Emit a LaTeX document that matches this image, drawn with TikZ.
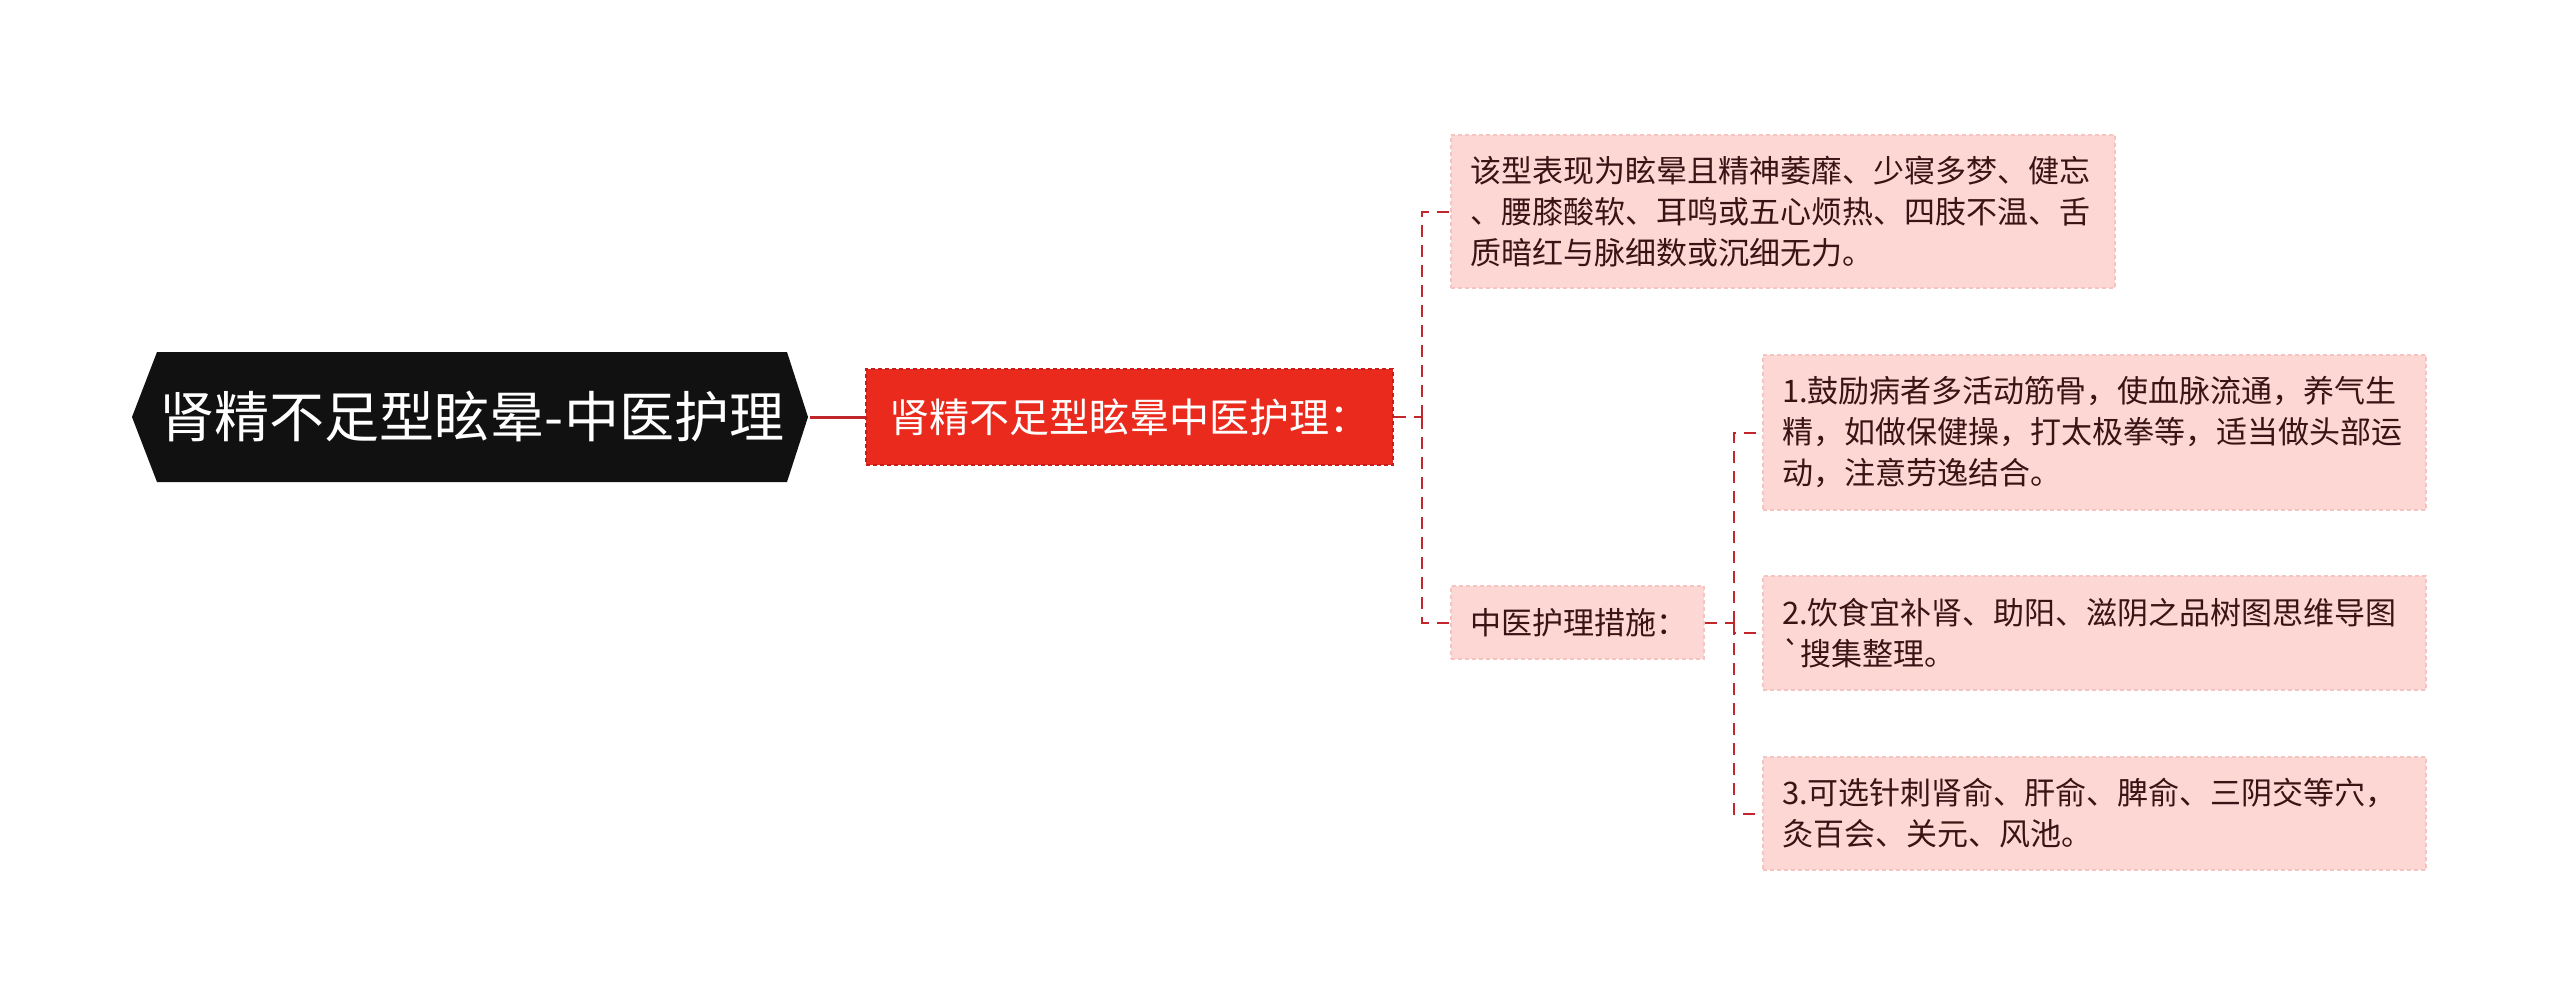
\documentclass[tikz,border=0pt]{standalone}
\usepackage{fontspec}
\newfontfamily\cjk{Noto Sans CJK SC}[Ligatures=TeXOff]
\usetikzlibrary{calc}
\definecolor{rootblack}{HTML}{111111}
\definecolor{mainred}{HTML}{EB2A1E}
\definecolor{mainredborder}{HTML}{C81E1A}
\definecolor{linkred}{HTML}{C0262B}
\definecolor{pinkfill}{HTML}{FCD7D4}
\definecolor{pinkborder}{HTML}{F6C3C0}
\definecolor{txtdark}{HTML}{3A1414}
\begin{document}
\begin{tikzpicture}[x=1pt,y=-1pt,
  roottext/.style={text=white,font=\cjk\fontsize{55}{62}\selectfont,minimum width=676pt,minimum height=130pt,inner sep=0pt},
  subnode/.style={fill=mainred,draw=mainredborder,dashed,dash pattern=on 4pt off 3pt,line width=1.2pt,text=white,font=\cjk\fontsize{40}{48}\selectfont,minimum width=527pt,minimum height=96pt,inner sep=0pt},
  leafbox/.style={fill=pinkfill,draw=pinkborder,dash pattern=on 4pt off 3pt,line width=1.2pt,text=txtdark,font=\cjk\fontsize{31}{41}\selectfont,align=left,inner xsep=19pt,inner ysep=0pt,anchor=center},
  link/.style={draw=linkred,line width=2pt,dash pattern=on 12pt off 8pt}
]
\useasboundingbox (0,0) rectangle (2560,1005);
% root shape
\fill[rootblack] (132,417) -- (157,352) -- (787,352) -- (808,417) -- (787,482) -- (157,482) -- cycle;
\node[roottext] (root) at (472,417) {肾精不足型眩晕-中医护理};
\node[subnode] (sub) at (1129.5,417) {肾精不足型眩晕中医护理：};
\node[leafbox,minimum width=664pt,minimum height=153pt,text width=626pt] (sym) at (1783,211.5)
  {该型表现为眩晕且精神萎靡、少寝多梦、健忘\\、腰膝酸软、耳鸣或五心烦热、四肢不温、舌\\质暗红与脉细数或沉细无力。};
\node[leafbox,minimum width=253pt,minimum height=73pt,text width=215pt] (care) at (1577.5,622.5)
  {中医护理措施：};
\node[leafbox,minimum width=663pt,minimum height=155pt,text width=625pt] (m1) at (2094.5,432.5)
  {1.鼓励病者多活动筋骨，使血脉流通，养气生\\精，如做保健操，打太极拳等，适当做头部运\\动，注意劳逸结合。};
\node[leafbox,minimum width=663pt,minimum height=114pt,text width=625pt] (m2) at (2094.5,633)
  {2.饮食宜补肾、助阳、滋阴之品树图思维导图\\`搜集整理。};
\node[leafbox,minimum width=663pt,minimum height=113pt,text width=625pt] (m3) at (2094.5,813.5)
  {3.可选针刺肾俞、肝俞、脾俞、三阴交等穴，\\灸百会、关元、风池。};
% connectors
\draw[linkred,line width=3pt] (root.east) -- (sub.west);
\coordinate (t1) at (1422,417);
\coordinate (t2) at (1734,622.5);
\draw[link] (sub.east) -- (t1);
\draw[link] (t1) |- (sym.west);
\draw[link] (t1) |- (care.west);
\draw[link] (care.east) -- (t2);
\draw[link] (t2) |- (m1.west);
\draw[link] (t2) |- (m2.west);
\draw[link] (t2) |- (m3.west);
\end{tikzpicture}
\end{document}
